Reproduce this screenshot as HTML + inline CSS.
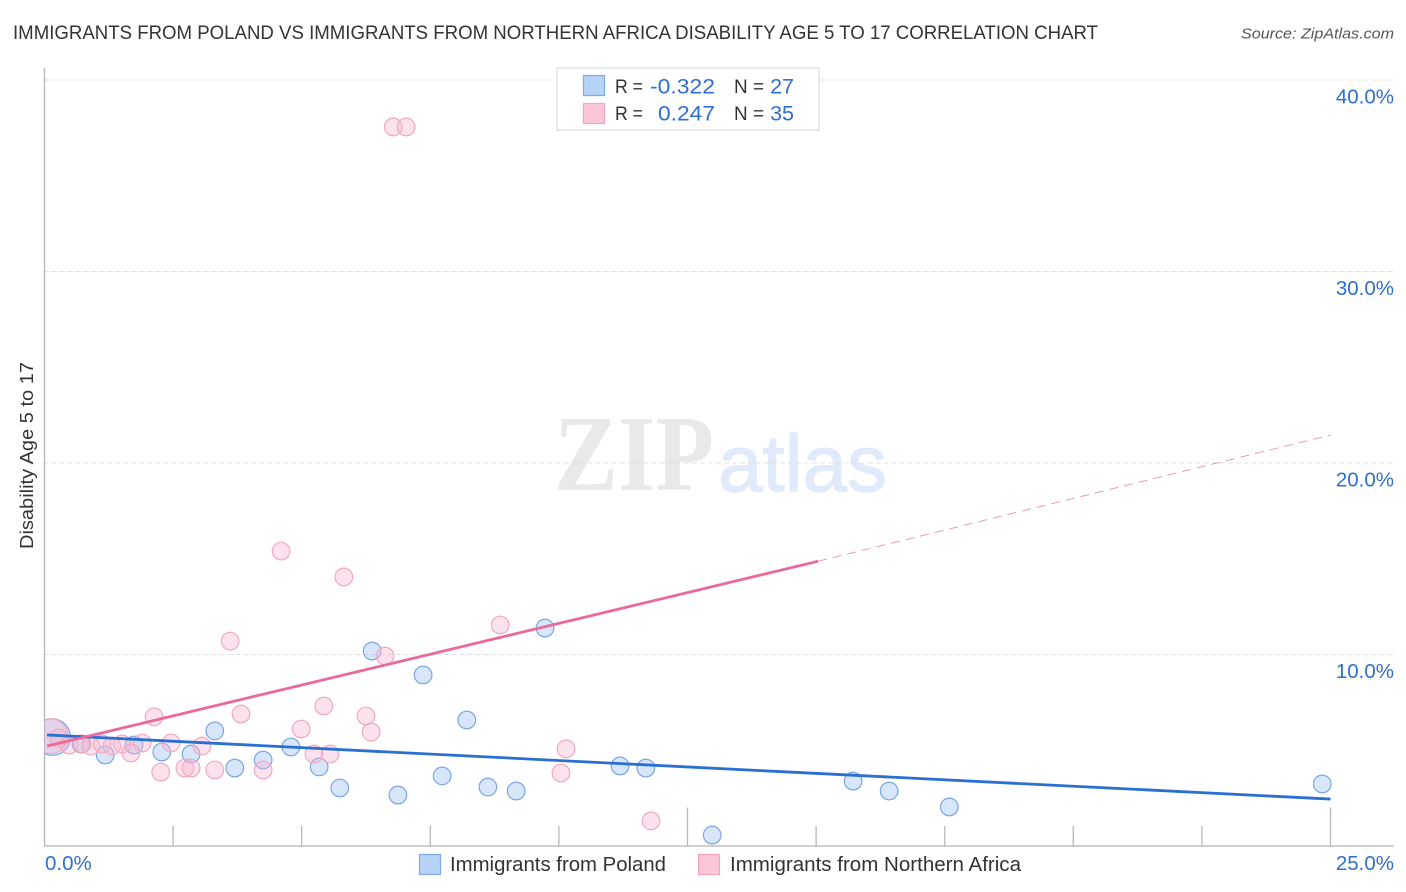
<!DOCTYPE html>
<html lang="en">
<head>
<meta charset="utf-8">
<title>Immigrants from Poland vs Immigrants from Northern Africa Disability Age 5 to 17 Correlation Chart</title>
<style>
html,body{margin:0;padding:0;background:#fff;width:1406px;height:892px;overflow:hidden}
svg{display:block;font-family:"Liberation Sans",sans-serif}
</style>
</head>
<body>
<svg id="chart" width="1406" height="892" viewBox="0 0 1406 892">
  <defs>
    <clipPath id="plot-clip"><rect x="44.5" y="60" width="1350" height="786"></rect></clipPath>
  </defs>
  <text x="13" y="39" font-size="19" fill="#333" textLength="1085" lengthAdjust="spacingAndGlyphs">IMMIGRANTS FROM POLAND VS IMMIGRANTS FROM NORTHERN AFRICA DISABILITY AGE 5 TO 17 CORRELATION CHART</text>
  <text x="1394" y="38.5" font-size="15" font-style="italic" fill="#555" text-anchor="end" textLength="153" lengthAdjust="spacingAndGlyphs">Source: ZipAtlas.com</text>

  <g>
    <text x="554" y="490" font-family="'Liberation Serif',serif" font-weight="bold" font-size="108" fill="#e9e9e9" textLength="160" lengthAdjust="spacingAndGlyphs">ZIP</text>
    <text x="718" y="491" font-size="80" fill="#e1eafa" stroke="#e1eafa" stroke-width="1.2" textLength="169" lengthAdjust="spacingAndGlyphs">atlas</text>
  </g>

  <g id="grid"></g>
  <g id="ticks"></g>
  <line x1="44.5" y1="68" x2="44.5" y2="846" stroke="#b4b4b4" stroke-width="1.3"></line>
  <line x1="44" y1="846" x2="1394" y2="846" stroke="#b4b4b4" stroke-width="1.3"></line>
  <g id="ylabels"></g>
  <g id="xlabels"></g>
  <text transform="translate(33,455.5) rotate(-90)" font-size="18" fill="#333" text-anchor="middle" textLength="187" lengthAdjust="spacingAndGlyphs">Disability Age 5 to 17</text>

  <g id="points-poland" clip-path="url(#plot-clip)"></g>
  <g id="points-africa" clip-path="url(#plot-clip)"></g>
  <g id="trends"></g>

  <g>
    <rect x="557" y="68" width="262" height="62" fill="#fff" stroke="#dcdcdc" stroke-width="1.2"></rect>
    <rect x="583.5" y="75.5" width="21" height="20" fill="#b7d2f7" stroke="#7eaae6" stroke-width="1.2"></rect>
    <rect x="583.5" y="103.5" width="21" height="20" fill="#fcc6d8" stroke="#f2a5bf" stroke-width="1.2"></rect>
    <text x="615" y="93" font-size="19.5" fill="#333" textLength="28" lengthAdjust="spacingAndGlyphs">R =</text>
    <text x="715" y="93.5" font-size="21.5" fill="#2f6fd0" text-anchor="end" textLength="65" lengthAdjust="spacingAndGlyphs">-0.322</text>
    <text x="734" y="93" font-size="19.5" fill="#333" textLength="30" lengthAdjust="spacingAndGlyphs">N =</text>
    <text x="794" y="93.5" font-size="21.5" fill="#2f6fd0" text-anchor="end">27</text>
    <text x="615" y="120" font-size="19.5" fill="#333" textLength="28" lengthAdjust="spacingAndGlyphs">R =</text>
    <text x="715" y="120.5" font-size="21.5" fill="#2f6fd0" text-anchor="end" textLength="57" lengthAdjust="spacingAndGlyphs">0.247</text>
    <text x="734" y="120" font-size="19.5" fill="#333" textLength="30" lengthAdjust="spacingAndGlyphs">N =</text>
    <text x="794" y="120.5" font-size="21.5" fill="#2f6fd0" text-anchor="end">35</text>
  </g>

  <g>
    <rect x="419.5" y="854.5" width="21" height="20" fill="#b7d2f7" stroke="#7eaae6" stroke-width="1.2"></rect>
    <text x="450" y="871" font-size="20" fill="#333" textLength="216" lengthAdjust="spacingAndGlyphs">Immigrants from Poland</text>
    <rect x="698.5" y="854.5" width="21" height="20" fill="#fcc6d8" stroke="#f2a5bf" stroke-width="1.2"></rect>
    <text x="730" y="871" font-size="20" fill="#333" textLength="291" lengthAdjust="spacingAndGlyphs">Immigrants from Northern Africa</text>
  </g>
</svg>
<script>
const yTickValues = [10, 20, 30, 40];
const yTickLabels = ['10.0%', '20.0%', '30.0%', '40.0%'];
const xTickValues = [2.5, 5, 7.5, 10, 12.5, 15, 17.5, 20, 22.5, 25];
const xMajorTicks = [12.5, 25];
const xEndLabels = ['0.0%', '25.0%'];

const polandX = [0.15,0.71,1.18,1.74,2.28,2.85,3.31,3.70,4.25,4.79,5.34,5.74,6.37,6.87,7.36,7.73,8.21,8.62,9.17,9.73,11.19,11.69,12.98,15.72,16.42,17.59,24.84];
const polandY = [5.69,5.33,4.75,5.27,4.91,4.80,6.01,4.07,4.49,5.17,4.13,3.03,10.18,2.66,8.93,3.66,6.58,3.08,2.87,11.38,4.18,4.07,0.57,3.39,2.87,2.04,3.24];
const polandWeight = [4.3,1,1,1,1,1,1,1,1,1,1,1,1,1,1,1,1,1,1,1,1,1,1,1,1,1,1];

const africaX = [0.12,0.28,0.48,0.73,0.90,1.12,1.31,1.51,1.90,1.68,2.13,2.46,2.26,2.73,2.85,3.06,3.31,3.82,4.25,4.99,5.43,5.24,5.55,6.25,6.35,3.61,4.60,5.82,6.62,8.86,6.78,7.03,10.14,10.04,11.79];
const africaY = [5.74,5.64,5.27,5.33,5.22,5.33,5.22,5.33,5.38,4.86,6.74,5.38,3.86,4.07,4.07,5.22,3.97,6.89,3.97,6.11,7.31,4.80,4.80,6.79,5.95,10.70,15.40,14.05,9.92,11.54,37.55,37.55,5.07,3.81,1.31];
const africaWeight = [3.9,1,1,1,1,1,1,1,1,1,1,1,1,1,1,1,1,1,1,1,1,1,1,1,1,1,1,1,1,1,1,1,1,1,1];

const polandTrendX = [0.05, 25];
const polandTrendY = [5.80, 2.45];
const africaTrendX = [0.05, 15.04];
const africaTrendY = [5.22, 14.87];
const africaForecastX = [15.04, 25];
const africaForecastY = [14.87, 21.46];

const NS = 'http://www.w3.org/2000/svg';
function xScale(v) { return 44.5 + v * 51.44; }
function yScale(v) { return 846 - v * 19.15; }
function make(parent, tag, attrs) {
  const el = document.createElementNS(NS, tag);
  for (const k in attrs) el.setAttribute(k, attrs[k]);
  parent.appendChild(el);
  return el;
}

const gridG = document.getElementById('grid');
const ylabelG = document.getElementById('ylabels');
yTickValues.forEach(function (v, i) {
  const ln = make(gridG, 'line', {x1: 44, x2: 1394, y1: yScale(v), y2: yScale(v), stroke: '#e0e0e0', 'stroke-width': 1, 'stroke-dasharray': '5 3'});
  
  
  const t = make(ylabelG, 'text', {x: 1394, y: yScale(v) + 23.5, 'font-size': 20.5, fill: '#2f6fd0', 'text-anchor': 'end'});
  t.textContent = yTickLabels[i];
  
  
});

const tickG = document.getElementById('ticks');
xTickValues.forEach(function (v) {
  const top = xMajorTicks.indexOf(v) >= 0 ? 807.5 : 826;
  const ln = make(tickG, 'line', {x1: xScale(v), x2: xScale(v), y1: top, y2: 846, stroke: '#b9b9b9', 'stroke-width': 1.3});
  
  
});

const xlabelG = document.getElementById('xlabels');
const xLabelLeft = make(xlabelG, 'text', {x: 45, y: 870, 'font-size': 20.5, fill: '#2f6fd0'});
xLabelLeft.textContent = xEndLabels[0];


const xLabelRight = make(xlabelG, 'text', {x: 1394, y: 870, 'font-size': 20.5, fill: '#2f6fd0', 'text-anchor': 'end'});
xLabelRight.textContent = xEndLabels[1];



function drawPoints(groupId, xs, ys, weights, fill, stroke, pointName) {
  const g = document.getElementById(groupId);
  xs.forEach(function (x, i) {
    const c = make(g, 'circle', {cx: xScale(x), cy: yScale(ys[i]), r: 8.8 * Math.sqrt(weights[i]), fill: fill, stroke: stroke, 'stroke-width': 1.2});
    
    
  });
}
drawPoints('points-poland', polandX, polandY, polandWeight, 'rgba(160,195,245,0.42)', '#7aa6e3', 'poland-point');
drawPoints('points-africa', africaX, africaY, africaWeight, 'rgba(248,180,205,0.38)', '#f0a9c1', 'northern-africa-point');

const trendG = document.getElementById('trends');
const polandTrend = make(trendG, 'line', {x1: xScale(polandTrendX[0]), y1: yScale(polandTrendY[0]), x2: xScale(polandTrendX[1]), y2: yScale(polandTrendY[1]), stroke: '#2a6fd2', 'stroke-width': 2.8});


const africaTrend = make(trendG, 'line', {x1: xScale(africaTrendX[0]), y1: yScale(africaTrendY[0]), x2: xScale(africaTrendX[1]), y2: yScale(africaTrendY[1]), stroke: '#ea6a9b', 'stroke-width': 2.8});


const africaForecast = make(trendG, 'line', {x1: xScale(africaForecastX[0]), y1: yScale(africaForecastY[0]), x2: xScale(africaForecastX[1]), y2: yScale(africaForecastY[1]), stroke: '#e692b2', 'stroke-width': 0.9, 'stroke-dasharray': '9 6'});


</script>
</body>
</html>
